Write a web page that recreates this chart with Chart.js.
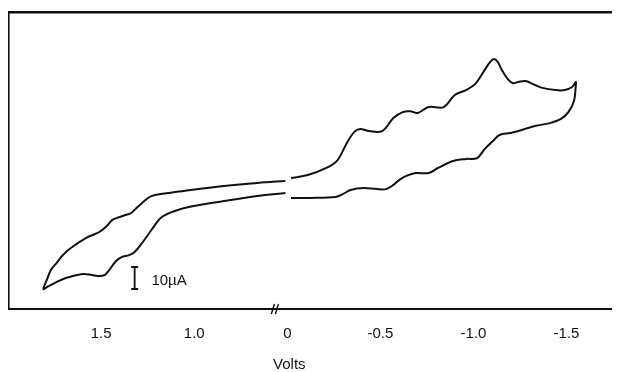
<!DOCTYPE html>
<html>
<head>
<meta charset="utf-8">
<script src="https://cdn.jsdelivr.net/npm/chart.js@4.4.1/dist/chart.umd.min.js"></script>
<style>
  html, body { margin: 0; padding: 0; background: #fff; }
  #wrap { width: 617px; height: 372px; }
</style>
</head>
<body>
<div id="wrap"><canvas id="cvChart"></canvas></div>
<script>
// potentials in volts, currents in microamps (zero at the axis line)
var leftUpperE = [0.51, 0.66, 0.84, 1.02, 1.14, 1.21, 1.24, 1.28, 1.31, 1.34, 1.37, 1.40, 1.44, 1.47, 1.51, 1.58, 1.67, 1.71, 1.74, 1.77, 1.79, 1.81];
var leftUpperI = [58.2, 57.3, 55.9, 54.1, 52.7, 51.8, 50.9, 48.2, 45.9, 43.6, 42.7, 41.8, 40.5, 37.7, 35.0, 32.3, 27.3, 24.1, 20.9, 17.7, 13.6, 9.1];
var leftLowerE = [1.79, 1.75, 1.69, 1.60, 1.55, 1.51, 1.48, 1.46, 1.42, 1.39, 1.35, 1.32, 1.28, 1.23, 1.18, 1.12, 1.03, 0.84, 0.66, 0.51];
var leftLowerI = [10.0, 11.8, 14.1, 15.9, 15.5, 15.0, 15.5, 17.3, 21.8, 23.6, 24.5, 25.9, 30.0, 35.9, 41.4, 44.1, 46.4, 49.1, 51.4, 52.7];

var rightLowerE = [-0.02, -0.12, -0.26, -0.30, -0.34, -0.41, -0.48, -0.53, -0.57, -0.60, -0.64, -0.69, -0.76, -0.81, -0.89, -0.96, -1.02, -1.06, -1.11, -1.14, -1.20, -1.24, -1.33, -1.41, -1.47, -1.51, -1.54, -1.55];
var rightLowerI = [50.5, 50.5, 50.9, 52.3, 54.1, 55.0, 54.5, 54.5, 56.4, 58.6, 60.5, 61.8, 61.8, 64.1, 67.3, 68.2, 68.6, 72.7, 76.8, 79.1, 80.0, 80.9, 83.2, 84.5, 86.4, 89.5, 94.5, 101.8];
var rightUpperE = [-1.55, -1.53, -1.49, -1.44, -1.37, -1.33, -1.28, -1.24, -1.21, -1.18, -1.15, -1.13, -1.11, -1.09, -1.06, -1.01, -0.96, -0.90, -0.84, -0.76, -0.70, -0.66, -0.62, -0.57, -0.51, -0.44, -0.39, -0.36, -0.32, -0.27, -0.21, -0.11, -0.02];
var rightUpperI = [103.2, 100.9, 99.5, 99.5, 100.5, 101.8, 103.6, 103.2, 102.7, 105.0, 109.1, 112.3, 113.6, 112.3, 108.6, 102.3, 99.5, 97.3, 91.8, 91.8, 89.1, 89.9, 89.5, 86.8, 80.9, 80.9, 81.8, 80.5, 75.5, 67.7, 64.1, 60.9, 59.5];

var tickVolts = [1.5, 1.0, 0, -0.5, -1.0, -1.5];
var tickLabels = ['1.5', '1.0', '0', '-0.5', '-1.0', '-1.5'];

var scaleBarE = 1.32;
var scaleBarI = [9.1, 19.1];
var scaleBarText = '10\u00b5A';
var axisTitle = 'Volts';

// the axis is broken between 0 and +0.5 V
var BREAK_SHIFT = 0.5;
function toAxis(e) { return e > 0.25 ? e - BREAK_SHIFT : e; }
function points(es, is) { return es.map(function (e, k) { return { x: toAxis(e), y: is[k] }; }); }

var ink = '#111';
var fontFamily = '"Liberation Sans", Arial, Helvetica, sans-serif';

var extras = {
    id: 'extras',
    afterDatasetsDraw: function (chart) {
        var ctx = chart.ctx, x = chart.scales.x, y = chart.scales.y, area = chart.chartArea;
        ctx.save();
        ctx.fillStyle = ink;
        ctx.strokeStyle = ink;
        // scale bar label
        ctx.font = '15px ' + fontFamily;
        ctx.textAlign = 'left';
        ctx.textBaseline = 'middle';
        ctx.fillText(scaleBarText, x.getPixelForValue(toAxis(1.23)), y.getPixelForValue(12.7));
        // axis title centred under 0
        ctx.textAlign = 'center';
        ctx.fillText(axisTitle, x.getPixelForValue(0) + 2, area.bottom + 56);
        // break mark on the axis
        var px = x.getPixelForValue(0.064), b = area.bottom;
        ctx.lineWidth = 1.4;
        ctx.beginPath();
        ctx.moveTo(px - 4, b + 5); ctx.lineTo(px - 1, b - 5);
        ctx.moveTo(px, b + 5); ctx.lineTo(px + 3, b - 5);
        ctx.stroke();
        ctx.restore();
    }
};

var lineStyle = { borderColor: ink, borderWidth: 2, pointRadius: 0, tension: 0.35, showLine: true, fill: false };

new Chart('cvChart', {
    type: 'scatter',
    data: {
        datasets: [
            Object.assign({ data: points(leftUpperE.concat(leftLowerE), leftUpperI.concat(leftLowerI)) }, lineStyle),
            Object.assign({ data: points(rightLowerE.concat(rightUpperE), rightLowerI.concat(rightUpperI)) }, lineStyle),
            {
                data: points([scaleBarE, scaleBarE], scaleBarI),
                showLine: true, borderColor: ink, borderWidth: 1.8,
                pointStyle: 'line', pointRadius: 3.5, pointBorderColor: ink, pointBorderWidth: 1.8
            }
        ]
    },
    options: {
        responsive: true,
        maintainAspectRatio: false,
        animation: false,
        layout: { padding: { left: 9, top: 12, right: 0, bottom: 0 } },
        plugins: { legend: { display: false }, tooltip: { enabled: false } },
        scales: {
            x: {
                type: 'linear',
                reverse: true,
                min: -1.74,
                max: 1.495,
                grid: { display: false, drawTicks: false },
                border: { display: true, color: ink, width: 2 },
                afterBuildTicks: function (s) { s.ticks = tickVolts.map(function (v) { return { value: toAxis(v) }; }); },
                afterFit: function (s) { s.height = 63; },
                ticks: {
                    autoSkip: false, maxRotation: 0, padding: 16, color: ink,
                    font: { family: fontFamily, size: 15 },
                    callback: function (v, i) { return tickLabels[i]; }
                }
            },
            x2: {
                type: 'linear',
                position: 'top',
                ticks: { display: false },
                grid: { display: false, drawTicks: false },
                border: { display: true, color: ink, width: 2.5 }
            },
            y: {
                min: 0,
                max: 135,
                ticks: { display: false },
                grid: { display: false, drawTicks: false },
                border: { display: true, color: ink, width: 1.6 }
            }
        }
    },
    plugins: [extras]
});
</script>
</body>
</html>
